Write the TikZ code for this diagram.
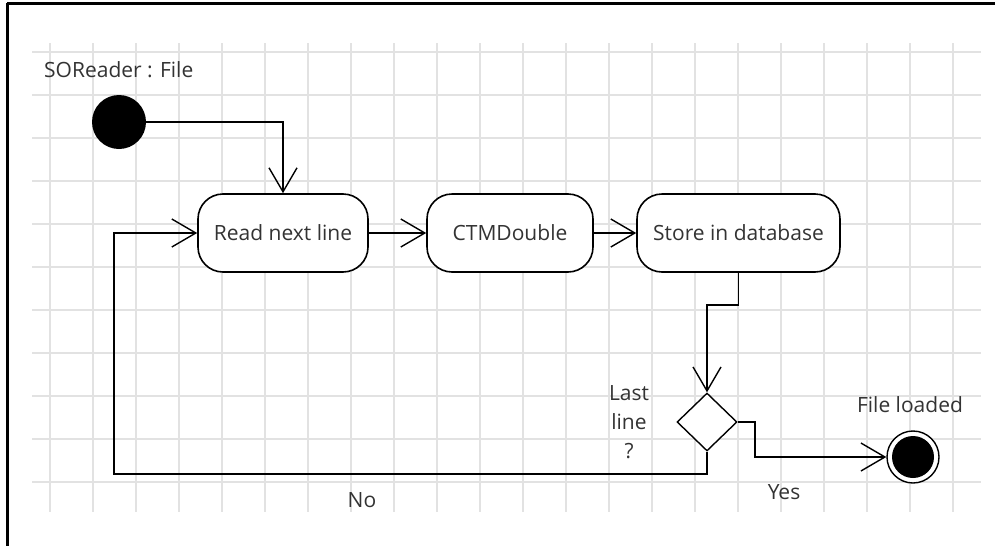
\documentclass[tikz,border=0pt]{standalone}
\usepackage{fontspec}
\setmainfont{Open Sans}
\usetikzlibrary{arrows.meta,shapes.geometric}
\definecolor{gridgray}{HTML}{E2E2E2}
\definecolor{txt}{HTML}{333333}
\tikzset{
  activity/.style={draw=black, line width=1.6pt, rounded corners=25pt, fill=white,
    minimum height=78pt, inner sep=0pt, font=\fontsize{21}{24}\selectfont, text=txt},
  flow/.style={draw=black, line width=1.6pt,
    -{Straight Barb[length=24pt,width=28pt,line width=1.4pt]}},
  label/.style={font=\fontsize{21}{24}\selectfont, text=txt, inner sep=0pt},
  gridline/.style={draw=gridgray, line width=1.6pt}
}
\begin{document}
\begin{tikzpicture}[x=1pt,y=-1pt]
  \useasboundingbox (0,0) rectangle (995,546);
  % background grid
  \foreach \k in {0,...,10} \draw[gridline] (32,52+43*\k) -- (981,52+43*\k);
  \foreach \k in {0,...,21} \draw[gridline] (50+43*\k,43) -- (50+43*\k,512);
  % frame edges
  \draw[line width=3pt] (7,3) -- (995,3);
  \draw[line width=3pt] (7,3) -- (7,546);

  % nodes
  \node[circle, fill=black, minimum size=54pt, inner sep=0pt] (start) at (119,122) {};
  \node[label, anchor=west] (startlbl) at (44,70) {SOReader : File};
  \node[activity, minimum width=170pt] (read) at (283,233) {Read next line};
  \node[activity, minimum width=166pt] (ctm) at (510,233) {CTMDouble};
  \node[activity, minimum width=203pt] (store) at (738.5,233) {Store in database};
  \node[diamond, draw=black, line width=1.4pt, fill=white, inner sep=0pt,
        minimum width=60pt, minimum height=58pt] (dec) at (707,422) {};
  \node[label, align=center, font=\fontsize{21}{29}\selectfont] (declbl) at (629,422) {Last\\line\\?};
  \node[circle, draw=black, line width=1.4pt, fill=white, minimum size=52pt, inner sep=0pt,
        path picture={\fill[black] (path picture bounding box.center) circle (21pt);}] (end) at (913,457) {};
  \node[label] (endlbl) at (910,405) {File loaded};
  \node[label] (yes) at (784,492) {Yes};
  \node[label] (no) at (362,500) {No};

  % control flow
  \coordinate (loop) at (114,474);
  \draw[flow] (start) -| (read);
  \draw[flow] (read) -- (ctm);
  \draw[flow] (ctm) -- (store);
  \draw[flow] (store.south) -- ++(0,32) -| (dec.north);
  \draw[flow] (dec.east) -- ++(17,0) |- (end);
  \draw[flow] (dec.south) |- (loop) |- (read.west);
\end{tikzpicture}
\end{document}
